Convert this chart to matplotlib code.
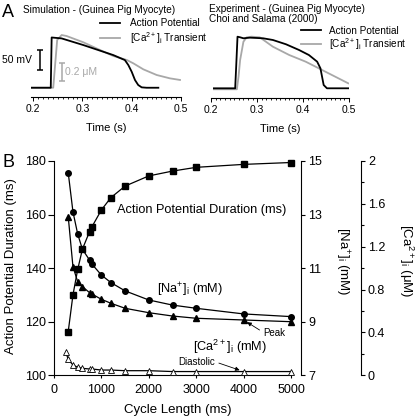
import matplotlib.pyplot as plt
from matplotlib.ticker import MultipleLocator

plt.rcParams['font.family'] = ['Liberation Sans', 'DejaVu Sans']
plt.rcParams['mathtext.fontset'] = 'custom'
plt.rcParams['mathtext.rm'] = 'Liberation Sans'
plt.rcParams['mathtext.it'] = 'Liberation Sans:italic'
plt.rcParams['axes.linewidth'] = 0.8

# ---- Panel A: simulated traces (time in s, V in mV, Ca in uM)
sim_ap_t = [0.196, 0.236, 0.2378, 0.258, 0.302, 0.3626, 0.386, 0.393, 0.3998, 0.4065, 0.413, 0.420, 0.430, 0.4537]
sim_ap_v = [-85, -85, 44, 41.6, 24.5, -1.2, -14, -26.8, -44, -65.3, -78, -84, -85, -85]
sim_ca_t = [0.196, 0.241, 0.2445, 0.249, 0.258, 0.268, 0.302, 0.3356, 0.3626, 0.3897, 0.403, 0.4233, 0.4504, 0.477, 0.4976]
sim_ca = [0.1, 0.1, 0.333, 0.630, 0.685, 0.674, 0.604, 0.519, 0.452, 0.408, 0.371, 0.304, 0.241, 0.204, 0.186]

# ---- Panel A: experimental traces (normalised)
exp_ap_t = [0.2057, 0.252, 0.2542, 0.2571, 0.2628, 0.270, 0.2842, 0.3128, 0.3342, 0.3627, 0.3912,
            0.4126, 0.4306, 0.4377, 0.4413, 0.4448, 0.452, 0.4983]
exp_ap = [0, 0, 0.419, 1.0, 0.988, 0.969, 0.981, 0.969, 0.936, 0.853, 0.742,
          0.645, 0.516, 0.388, 0.225, 0.064, 0, 0]
exp_ca_t = [0.2057, 0.2557, 0.2593, 0.2628, 0.270, 0.2771, 0.2878, 0.3056, 0.3342, 0.3698, 0.4056,
            0.434, 0.4627, 0.4842, 0.4983]
exp_ca = [-0.019, -0.019, 0.225, 0.548, 0.903, 0.988, 1.0, 0.988, 0.806, 0.645, 0.516,
          0.388, 0.258, 0.161, 0.097]

# ---- Panel B: rate dependence
cycle_len = [300, 400, 500, 600, 750, 800, 1000, 1200, 1500, 2000, 2500, 3000, 4000, 5000]
apd = [116.3, 130.0, 139.5, 147.1, 153.6, 155.4, 161.7, 166.3, 170.6, 174.4, 176.2, 177.6, 178.7, 179.4]
na_i = [14.56, 13.10, 12.27, 11.70, 11.30, 11.15, 10.74, 10.46, 10.15, 9.81, 9.62, 9.50, 9.29, 9.19]
ca_peak = [1.48, 1.013, 0.873, 0.827, 0.771, 0.758, 0.709, 0.672, 0.625, 0.584, 0.553, 0.532, 0.516, 0.50]
cycle_len_dia = [250, 300, 400, 500, 600, 750, 800, 1000, 1200, 1500, 2000, 2500, 3000, 4000, 5000]
ca_dia = [0.215, 0.149, 0.096, 0.075, 0.065, 0.059, 0.059, 0.049, 0.049, 0.043, 0.043, 0.035, 0.035, 0.035, 0.035]

W, H = 416, 418
fig = plt.figure(figsize=(W / 100, H / 100), dpi=100)


def box(l, t, r, b):
    return [l / W, 1 - b / H, (r - l) / W, (b - t) / H]


GRAY = '#a8a8a8'
ca_label = '[Ca$^{2+}$]$_\\mathrm{i}$ Transient'


def style_a(ax):
    for s in ['left', 'right', 'top']:
        ax.spines[s].set_visible(False)
    ax.set_yticks([])
    ax.set_xticks([0.2, 0.3, 0.4, 0.5])
    ax.set_xticklabels(['0.2', '0.3', '0.4', '0.5'])
    ax.xaxis.set_minor_locator(MultipleLocator(0.01))
    ax.tick_params(axis='x', which='major', length=3, width=0.7, labelsize=7.5, pad=2)
    ax.tick_params(axis='x', which='minor', length=1.5, width=0.6)
    ax.set_xlabel('Time (s)', fontsize=8)
    ax.xaxis.set_label_coords(0.5, -0.33)
    ax.patch.set_visible(False)


# --- A left: simulation
axv = fig.add_axes(box(31, 18, 181.2, 96.7))
axc = axv.twinx()
axc.set_zorder(axv.get_zorder() - 1)
axv.patch.set_visible(False)
l_ca, = axc.plot(sim_ca_t, sim_ca, color=GRAY, lw=1.3)
l_ap, = axv.plot(sim_ap_t, sim_ap_v, color='black', lw=1.3)
axv.set_xlim(0.196, 0.5)
axv.set_ylim(-108, 94)
axc.set_ylim(0, 0.874)
style_a(axv)
for s in ['left', 'right', 'top', 'bottom']:
    axc.spines[s].set_visible(False)
axc.set_yticks([])
axv.errorbar([0.2142], [-13.5], yerr=25, fmt='none', ecolor='black', elinewidth=1.1, capsize=2.2, capthick=1.1)
axv.annotate('50 mV', xy=(0.2142, -13.5), xytext=(-6, 0), textcoords='offset points',
             ha='right', va='center', fontsize=7.5)
axc.errorbar([0.2587], [0.275], yerr=0.1, fmt='none', ecolor=GRAY, elinewidth=1.1, capsize=2.2, capthick=1.1)
axc.annotate('0.2 μM', xy=(0.2587, 0.275), xytext=(2.5, 0), textcoords='offset points',
             ha='left', va='center', fontsize=7.5, color=GRAY)
axv.legend([l_ap, l_ca], ['Action Potential', ca_label], loc='upper left',
           bbox_to_anchor=(0.46, 1.0), frameon=False, fontsize=7.2, handlelength=2.0,
           handletextpad=1.0, labelspacing=0.2, borderpad=0, borderaxespad=0)
fig.text(23 / W, 1 - 12.7 / H, 'Simulation - (Guinea Pig Myocyte)', fontsize=7.2, va='baseline')

# --- A right: experiment
axe = fig.add_axes(box(211.3, 18, 349, 97.7))
e_ca, = axe.plot(exp_ca_t, exp_ca, color=GRAY, lw=1.3)
e_ap, = axe.plot(exp_ap_t, exp_ap, color='black', lw=1.3)
axe.set_xlim(0.205, 0.5)
axe.set_ylim(-0.182, 1.362)
style_a(axe)
axe.legend([e_ap, e_ca], ['Action Potential', ca_label], loc='upper left',
           bbox_to_anchor=(0.655, 0.9), frameon=False, fontsize=7.2, handlelength=2.0,
           handletextpad=0.8, labelspacing=0.0, borderpad=0, borderaxespad=0)
fig.text(209 / W, 1 - 11.7 / H, 'Experiment - (Guinea Pig Myocyte)', fontsize=7.2, va='baseline')
fig.text(209 / W, 1 - 21.7 / H, 'Choi and Salama (2000)', fontsize=7.2, va='baseline')

fig.text(2 / W, 1 - 16.7 / H, 'A', fontsize=13, va='baseline')
fig.text(2 / W, 1 - 166.7 / H, 'B', fontsize=13, va='baseline')

# --- B
ax = fig.add_axes(box(54, 160.9, 291, 375.3))
ax_na = ax.twinx()
ax_ca = ax.twinx()
ax.set_xlim(0, 5000)
ax.set_ylim(100, 180)
ax_na.set_ylim(7, 15)
ax_ca.set_ylim(0, 2)

ax.plot(cycle_len, apd, 'k-s', ms=3.8, lw=0.9, clip_on=False)
ax_na.plot(cycle_len, na_i, 'k-o', ms=4, lw=0.9, clip_on=False)
ax_ca.plot(cycle_len, ca_peak, 'k-^', ms=4, lw=0.9, clip_on=False)
ax_ca.plot(cycle_len_dia, ca_dia, 'k-^', ms=4, lw=0.9, mfc='white', mew=0.6, clip_on=False)

ax.spines['top'].set_visible(False)
ax.spines['right'].set_visible(False)
for t in (ax_na, ax_ca):
    for s in ['left', 'top', 'bottom']:
        t.spines[s].set_visible(False)
ax_na.spines['right'].set_position(('outward', 7.2))
ax_ca.spines['right'].set_position(('outward', 50.4))

ax.set_xticks([0, 1000, 2000, 3000, 4000, 5000])
ax.set_yticks([100, 120, 140, 160, 180])
ax_na.set_yticks([7, 9, 11, 13, 15])
ax_ca.set_yticks([0, 0.4, 0.8, 1.2, 1.6, 2])
ax_ca.set_yticklabels(['0', '0.4', '0.8', '1.2', '1.6', '2'])
ax_ca.yaxis.set_minor_locator(MultipleLocator(0.2))
ax.tick_params(axis='y', length=4.5, width=0.8, labelsize=9, pad=1.5)
ax.tick_params(axis='x', length=2.5, width=0.8, labelsize=9, pad=3.5)
ax_na.tick_params(axis='y', length=3, width=0.8, labelsize=9, pad=2)
ax_ca.tick_params(axis='y', which='major', length=3, width=0.8, labelsize=9, pad=2)
ax_ca.tick_params(axis='y', which='minor', length=2, width=0.8)

ax.set_xlabel('Cycle Length (ms)', fontsize=9.5)
ax.xaxis.set_label_coords(0.521, -0.135)
ax.set_ylabel('Action Potential Duration (ms)', fontsize=9.5, va='center')
ax.yaxis.set_label_coords(-0.183, 0.51)
ax_na.set_ylabel('[Na$^{+}$]$_\\mathrm{i}$ (mM)', fontsize=9.5, rotation=270, va='center', ha='center')
ax_na.yaxis.set_label_coords(1.217, 0.53)
ax_ca.set_ylabel('[Ca$^{2+}$]$_\\mathrm{i}$ (μM)', fontsize=9.5, rotation=270, va='center', ha='center')
ax_ca.yaxis.set_label_coords(1.487, 0.535)

ax.text(1334, 161.7, 'Action Potential Duration (ms)', fontsize=9.2, va='center', ha='left')
ax.text(2170, 131.8, '[Na$^{+}$]$_\\mathrm{i}$ (mM)', fontsize=9.2, va='center', ha='left')
ax.text(2936, 110.6, '[Ca$^{2+}$]$_\\mathrm{i}$ (mM)', fontsize=9.2, va='center', ha='left')
ax_ca.annotate('Peak', xy=(4000, ca_peak[-2]), xytext=(4420, 0.39), fontsize=7, ha='left', va='center',
               arrowprops=dict(arrowstyle='-|>', lw=0.6, color='black', mutation_scale=6,
                               shrinkA=1, shrinkB=3, relpos=(0, 0.6)))
ax_ca.annotate('Diastolic', xy=(4000, ca_dia[-2]), xytext=(2617, 0.127), fontsize=7, ha='left', va='center',
               arrowprops=dict(arrowstyle='-|>', lw=0.6, color='black', mutation_scale=6,
                               shrinkA=1, shrinkB=3, relpos=(1, 0.5)))

fig.savefig('out.png', dpi=100)
